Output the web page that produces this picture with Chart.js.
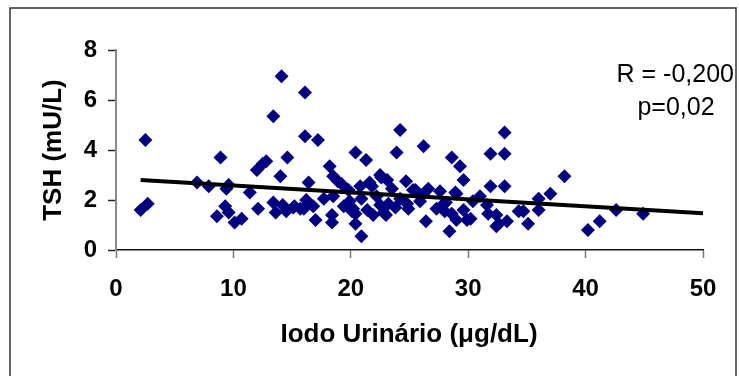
<!DOCTYPE html>
<html>
<head>
<meta charset="utf-8">
<script src="https://cdn.jsdelivr.net/npm/chart.js@4.4.1/dist/chart.umd.min.js"></script>
<style>
  body { margin: 0; background: #fff; }
  .wrap { width: 739px; height: 376px; position: relative; }
</style>
</head>
<body>
<div class="wrap"><canvas id="tshChart"></canvas></div>
<script>
// iodo urinario (ug/dL) and TSH (mU/L)
const iodo = [2.1,2.7,2.5,6.9,7.9,8.9,8.6,9.3,9.6,9.6,
  9.4,10.1,10.7,11.4,12.1,12.0,12.5,12.8,14.0,14.6,
  13.4,14.1,13.4,13.6,14.2,14.5,15.1,15.7,16.2,16.1,
  16.1,16.4,17.2,16.8,16.0,17.0,17.7,18.2,18.5,18.9,
  19.2,18.5,18.4,18.4,19.4,19.8,20.4,21.3,20.8,20.9,
  20.2,20.4,20.4,20.9,21.8,22.6,22.2,21.4,21.9,22.5,
  23.0,23.2,23.5,23.9,24.2,24.7,24.2,24.8,24.9,25.5,
  25.9,26.2,26.6,27.6,26.4,27.9,28.0,28.6,29.3,29.0,
  29.6,28.6,29.0,29.6,29.9,28.4,30.4,31.0,31.9,31.9,
  31.7,32.4,32.6,33.3,33.1,33.1,33.1,34.3,34.7,35.1,
  36.0,36.0,37.0,38.2,40.2,41.2,42.6,44.9,32.4,30.2,
  31.6,22.5,21.6,23.1,15.2,19.9,20.1,25.3,28.9,22.8,
  27.3,28.1,26.2,23.8];
const tsh = [1.6,1.85,4.4,2.7,2.55,3.7,1.35,1.75,1.5,2.6,
  2.45,1.1,1.25,2.3,1.65,3.2,3.45,3.55,2.95,3.7,
  5.35,6.95,1.9,1.5,1.8,1.55,1.7,1.65,2.0,6.3,
  4.55,2.7,4.4,1.75,1.65,1.2,2.05,3.35,2.95,2.75,
  2.65,2.15,1.4,1.1,1.75,2.4,3.9,3.6,2.55,2.05,
  1.65,1.45,1.05,0.55,2.55,2.9,2.15,1.6,1.4,1.8,
  1.4,1.85,2.45,3.9,4.8,2.75,2.05,1.85,1.65,2.4,
  1.95,4.15,2.45,2.35,1.15,1.85,1.55,3.7,3.35,2.25,
  2.8,1.45,1.2,1.6,1.2,0.75,1.95,2.15,3.85,2.55,
  1.45,1.4,1.05,1.15,4.7,3.85,2.55,1.55,1.55,1.05,
  2.05,1.6,2.25,2.95,0.8,1.15,1.6,1.45,0.95,1.25,
  1.8,3.0,2.7,2.8,1.75,1.95,1.55,2.4,2.3,1.5,
  1.65,1.9,2.25,1.7];

// trend line end points
const trendX = [2.1, 50];
const trendY = [2.8, 1.47];

const xTicks = [0, 10, 20, 30, 40, 50];
const yTicks = [0, 2, 4, 6, 8];

const statLines = ["R = -0,200", "p=0,02"];
const xTitle = "Iodo Urinário (μg/dL)";
const yTitle = "TSH (mU/L)";

const FONT = "Arial, 'Liberation Sans', sans-serif";

// frame, axis titles and the R / p text
const extras = {
  id: "extras",
  afterDraw(chart) {
    const ctx = chart.ctx;
    ctx.save();
    ctx.strokeStyle = "#333";
    ctx.lineWidth = 1.5;
    ctx.strokeRect(10, 8, 726, 390);

    ctx.fillStyle = "#000";
    ctx.font = "bold 26px " + FONT;
    ctx.textAlign = "center";
    ctx.textBaseline = "middle";
    ctx.fillText(xTitle, 409, 335);

    ctx.save();
    ctx.translate(54, 150);
    ctx.rotate(-Math.PI / 2);
    ctx.fillText(yTitle, 0, 0);
    ctx.restore();

    ctx.font = "25px " + FONT;
    ctx.textBaseline = "alphabetic";
    ctx.textAlign = "right";
    ctx.fillText(statLines[0], 734, 82);
    ctx.textAlign = "center";
    ctx.fillText(statLines[1], 676, 115);
    ctx.restore();
  }
};

const ctx = document.getElementById("tshChart").getContext("2d");
const tshChart = new Chart(ctx, {
  type: "scatter",
  data: {
    datasets: [
      {
        type: "line",
        data: trendX.map((x, i) => ({ x: x, y: trendY[i] })),
        borderColor: "#000",
        borderWidth: 4,
        pointRadius: 0,
        fill: false,
      },
      {
        data: iodo.map((x, i) => ({ x: x, y: tsh[i] })),
        pointStyle: "rectRot",
        pointRadius: 7,
        pointHoverRadius: 7,
        backgroundColor: "#000080",
        borderColor: "#000080",
        borderWidth: 0,
      },
    ],
  },
  options: {
    responsive: true,
    maintainAspectRatio: false,
    animation: false,
    devicePixelRatio: 1,
    layout: { padding: { left: 0, right: 36, top: 50, bottom: 0 } },
    plugins: { legend: { display: false }, tooltip: { enabled: false } },
    scales: {
      x: {
        type: "linear",
        min: 0,
        max: 50,
        afterBuildTicks: (scale) => { scale.ticks = xTicks.map((v) => ({ value: v })); },
        afterFit: (scale) => { scale.height = 126; },
        grid: { drawOnChartArea: false, tickLength: 8, tickColor: "#777", tickWidth: 1.5 },
        border: { color: "#111", width: 1.5 },
        ticks: { color: "#000", padding: 17, font: { family: FONT, size: 24, weight: "bold" } },
      },
      y: {
        min: 0,
        max: 8,
        afterBuildTicks: (scale) => { scale.ticks = yTicks.map((v) => ({ value: v })); },
        afterFit: (scale) => { scale.width = 116; },
        grid: { drawOnChartArea: false, tickLength: 8, tickColor: "#222", tickWidth: 1.5 },
        border: { color: "#888", width: 2 },
        ticks: { color: "#000", padding: 11, font: { family: FONT, size: 24, weight: "bold" } },
      },
    },
  },
  plugins: [extras],
});
</script>
</body>
</html>
